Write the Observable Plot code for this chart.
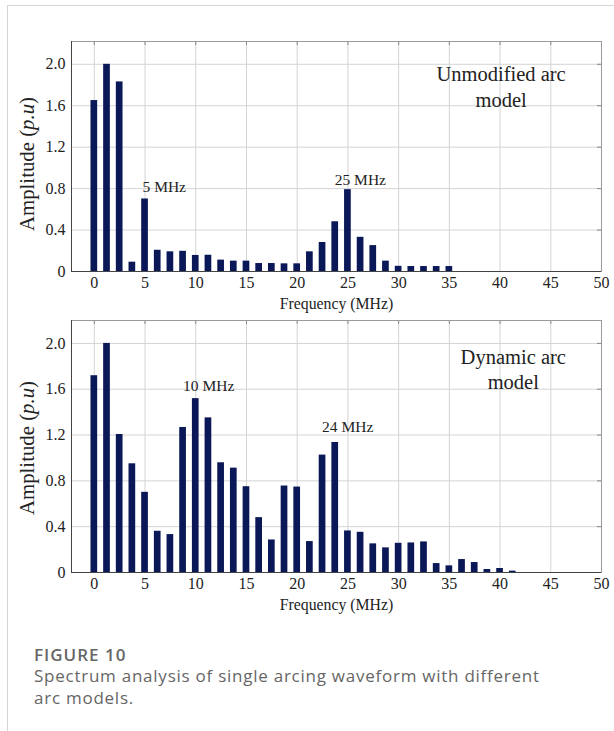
<!DOCTYPE html>
<html><head><meta charset="utf-8">
<script src="https://cdn.jsdelivr.net/npm/d3@7"></script>
<script src="https://cdn.jsdelivr.net/npm/@observablehq/plot@0.6"></script>
<style>
html,body{margin:0;padding:0;background:#fff;}
#page{position:relative;width:614px;height:731px;overflow:hidden;background:#fff;}
#card{position:absolute;left:7px;top:5px;width:700px;height:800px;border-left:1px solid #d5d5d5;border-top:1px solid #d5d5d5;}
.chart{position:absolute;left:0;}
#cap{position:absolute;left:34px;top:645px;font-family:"Open Sans",sans-serif;color:#666;font-size:17px;letter-spacing:0.75px;}
#cap .t{font-weight:600;line-height:20px;letter-spacing:1px;}
#cap .d{line-height:22px;}
</style></head><body>
<div id="page"><div id="card"></div>
<div id="c1" class="chart" style="top:0"></div>
<div id="c2" class="chart" style="top:310px"></div>
<div id="cap"><div class="t">FIGURE 10</div><div class="d">Spectrum analysis of single arcing waveform with different<br>arc models.</div></div>
</div>
<script>
// ---- data ----
const freqTop = [0,1.25,2.5,3.75,5,6.25,7.5,8.75,10,11.25,12.5,13.75,15,16.25,17.5,18.75,20,21.25,22.5,23.75,25,26.25,27.5,28.75,30,31.25,32.5,33.75,35];
const ampTop = [1.65,2.0,1.83,0.09,0.70,0.205,0.19,0.195,0.155,0.157,0.11,0.10,0.10,0.077,0.077,0.074,0.074,0.19,0.28,0.48,0.79,0.33,0.25,0.10,0.05,0.048,0.048,0.048,0.048];
const freqBottom = [0,1.25,2.5,3.75,5,6.25,7.5,8.75,10,11.25,12.5,13.75,15,16.25,17.5,18.75,20,21.25,22.5,23.75,25,26.25,27.5,28.75,30,31.25,32.5,33.75,35,36.25,37.5,38.75,40,41.25];
const ampBottom = [1.718,2.0,1.205,0.949,0.70,0.36,0.331,1.266,1.518,1.35,0.958,0.911,0.749,0.479,0.284,0.755,0.746,0.27,1.025,1.135,0.363,0.351,0.25,0.215,0.255,0.258,0.267,0.078,0.058,0.113,0.087,0.026,0.035,0.012];
const xTicks = [0,5,10,15,20,25,30,35,40,45,50];
const yTicks = [0,0.4,0.8,1.2,1.6,2.0];
const yTickLabels = ["0","0.4","0.8","1.2","1.6","2.0"];
const annoTopText = ["5 MHz","25 MHz"];
const annoTopX = [4.75,23.7];
const annoTopY = [0.82,0.88];
const annoBottomText = ["10 MHz","24 MHz"];
const annoBottomX = [8.75,22.45];
const annoBottomY = [1.63,1.27];
const titleTopText = ["Unmodified arc","model"];
const titleTopX = [40.1,40.1];
const titleTopY = [1.90,1.65];
const titleBottomText = ["Dynamic arc","model"];
const titleBottomX = [41.3,41.3];
const titleBottomY = [1.878,1.66];
const xLabel = "Frequency (MHz)";

// ---- style ----
const SERIF = "'Liberation Serif','Times New Roman',serif";
const BAR = "#0a1858";
const X0 = -2.25, X1 = 50;

function chart({freq, amp, height, mt, mb, yMax, anText, anX, anY, tText, tX, tY, yLabelCy}) {
  const W = 614, ml = 71, mr = 13;
  const innerH = height - mt - mb, innerW = W - ml - mr;
  const pxY = innerH / yMax, pxX = innerW / (X1 - X0);
  const bars = freq.map((f, i) => ({f, a: amp[i]}));
  const half = 0.33;
  const an = anText.map((t, i) => ({t, x: anX[i], y: anY[i]}));
  const tt = tText.map((t, i) => ({t, x: tX[i], y: tY[i]}));
  const svg = Plot.plot({
    width: W, height, marginLeft: ml, marginRight: mr, marginTop: mt, marginBottom: mb,
    style: {fontFamily: SERIF, fontSize: "16px", color: "#222", background: "transparent"},
    x: {domain: [X0, X1]},
    y: {domain: [0, yMax]},
    marks: [
      Plot.gridX(xTicks.filter(t => t < 50), {stroke: "#d4d4d4", strokeOpacity: 1}),
      Plot.gridY(yTicks.filter(t => t > 0), {stroke: "#d4d4d4", strokeOpacity: 1}),
      Plot.ruleX(xTicks, {y1: yMax, y2: yMax - 4 / pxY, stroke: "#888"}),
      Plot.ruleY(yTicks, {x1: X1, x2: X1 - 4 / pxX, stroke: "#888"}),
      Plot.rectY(bars, {x1: d => d.f - half, x2: d => d.f + half, y: "a", fill: BAR}),
      Plot.frame({stroke: "#9a9a9a"}),
      Plot.ruleX([X0], {stroke: "#444"}),
      Plot.ruleY([0], {stroke: "#444"}),
      Plot.axisX(xTicks, {tickSize: 0, tickPadding: 5, fontSize: 16, label: null}),
      Plot.axisY(yTicks, {tickSize: 0, tickPadding: 6, fontSize: 16, label: null, tickFormat: d => yTickLabels[yTicks.indexOf(d)]}),
      Plot.text([xLabel], {frameAnchor: "bottom", lineAnchor: "middle", dy: 32, fontSize: 15.8, fill: "#222"}),
      Plot.text(an, {x: "x", y: "y", text: "t", textAnchor: "start", fontSize: 15.5, fill: "#222"}),
      Plot.text(tt, {x: "x", y: "y", text: "t", textAnchor: "middle", fontSize: 20.5, fill: "#222"})
    ]
  });
  const s = d3.select(svg);
  const t = s.append("text")
    .attr("transform", `translate(27,${yLabelCy}) rotate(-90)`)
    .attr("text-anchor", "middle").attr("dy", "0.35em")
    .attr("font-family", SERIF).attr("font-size", 20.8).attr("fill", "#222");
  t.append("tspan").text("Amplitude (");
  t.append("tspan").attr("font-style", "italic").text("p.u");
  t.append("tspan").text(")");
  return svg;
}

document.getElementById("c1").append(chart({
  freq: freqTop, amp: ampTop, height: 320, mt: 41, mb: 49, yMax: 2.22,
  anText: annoTopText, anX: annoTopX, anY: annoTopY,
  tText: titleTopText, tX: titleTopX, tY: titleTopY, yLabelCy: 164
}));
document.getElementById("c2").append(chart({
  freq: freqBottom, amp: ampBottom, height: 310, mt: 10, mb: 48, yMax: 2.2,
  anText: annoBottomText, anX: annoBottomX, anY: annoBottomY,
  tText: titleBottomText, tX: titleBottomX, tY: titleBottomY, yLabelCy: 138
}));
</script>
</body></html>
